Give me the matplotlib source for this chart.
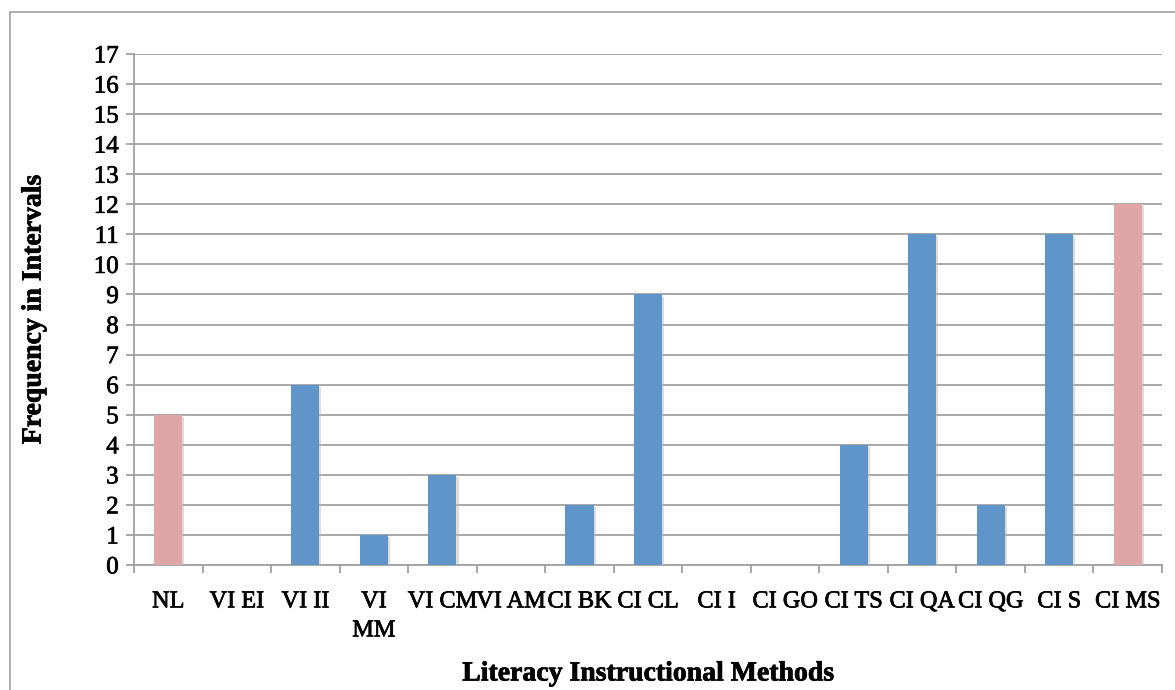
import matplotlib
matplotlib.use('Agg')
import matplotlib.pyplot as plt
import matplotlib.patheffects as pe
from matplotlib.patches import Rectangle
import numpy as np

# data
methods = ['NL', 'VI EI', 'VI II', 'VI\nMM', 'VI CM', 'VI AM', 'CI BK', 'CI CL',
           'CI I', 'CI GO', 'CI TS', 'CI QA', 'CI QG', 'CI S', 'CI MS']
freq = [5, 0, 6, 1, 3, 0, 2, 9, 0, 0, 4, 11, 2, 11, 12]
highlight = ['NL', 'CI MS']

blue = '#5F95C9'
pink = '#E0A6A5'
grid_c = '#A0A0A0'

plt.rcParams['font.family'] = ['Liberation Serif', 'DejaVu Serif']

fig = plt.figure(figsize=(11.75, 6.9), dpi=100)
W, H = 1175, 690
ax = fig.add_axes([134 / W, 1 - 565 / H, (1162 - 134) / W, (565 - 54) / H])

x = np.arange(len(methods))
colors = [pink if m in highlight else blue for m in methods]
bars = ax.bar(x, freq, width=0.41, color=colors, zorder=3)
for b in bars:
    b.set_path_effects([pe.SimplePatchShadow(offset=(1.5, -1.5), shadow_rgbFace='#bbbbbb', alpha=0.5),
                        pe.Normal()])

ax.set_xlim(-0.5, len(methods) - 0.5)
ax.set_ylim(0, 17)
ax.set_yticks(range(0, 18))
ax.yaxis.grid(True, color=grid_c, linewidth=1.3, zorder=0)
ax.set_axisbelow(True)

# category boundaries get the tick marks, labels sit in between
ax.set_xticks(np.arange(-0.5, len(methods), 1.0), minor=False)
ax.set_xticklabels([])
ax.set_xticks(x, minor=True)
ax.set_xticklabels(methods, minor=True, fontsize=17.5, linespacing=1.5, va='top')
ax.tick_params(axis='x', which='minor', length=0, pad=19)
ax.tick_params(axis='x', which='major', length=6, width=1.3, color=grid_c, direction='out')
ax.tick_params(axis='y', length=6, width=1.3, color=grid_c, direction='out', labelsize=18, pad=5)

# slightly heavier strokes, closer to the original serif face
thick = [pe.withStroke(linewidth=0.5, foreground='black')]
for t in ax.get_xticklabels(minor=True) + ax.get_yticklabels():
    t.set_path_effects(thick)

for s in ['top', 'right']:
    ax.spines[s].set_visible(False)
for s in ['left', 'bottom']:
    ax.spines[s].set_color(grid_c)
    ax.spines[s].set_linewidth(1.3)

ax.set_xlabel('Literacy Instructional Methods', fontsize=20, fontweight='bold', labelpad=0)
ax.xaxis.set_label_coords(0.5, -(674 - 565) / (565 - 54), transform=ax.transAxes)
ax.set_ylabel('Frequency in Intervals', fontsize=20, fontweight='bold')
ax.yaxis.set_label_coords(-(134 - 34) / (1162 - 134), 0.5, transform=ax.transAxes)
ax.xaxis.label.set_va('center')
ax.yaxis.label.set_va('center')
ax.xaxis.label.set_path_effects(thick)
ax.yaxis.label.set_path_effects(thick)

# outer chart frame
fig.patches.append(Rectangle((10 / W, -0.1), 1.2, 1 - 12 / H + 0.1, transform=fig.transFigure,
                             fill=False, edgecolor='#A8A8A8', linewidth=1.3))

fig.savefig('out.png', dpi=100)
